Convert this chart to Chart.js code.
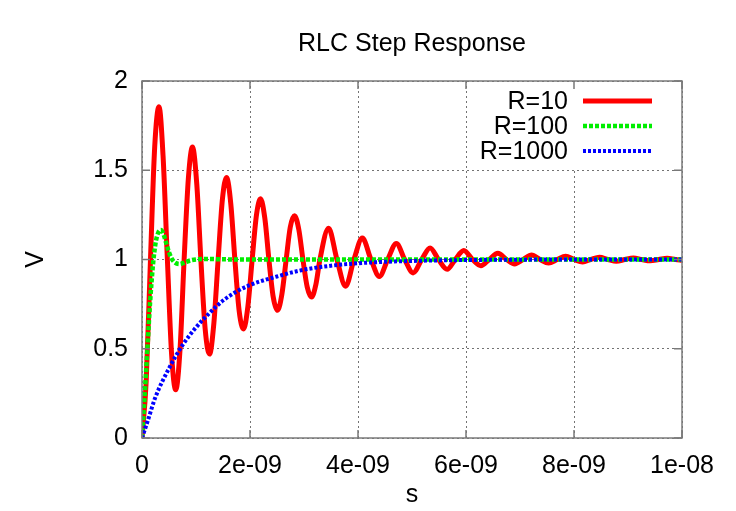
<!DOCTYPE html>
<html>
<head>
<meta charset="utf-8">
<title>RLC Step Response</title>
<script src="https://cdn.jsdelivr.net/npm/chart.js@4.4.1/dist/chart.umd.min.js"></script>
<style>
    body { margin: 0; background: #fff; }
    canvas { display: block; }
</style>
</head>
<body>
<canvas id="rlcChart" width="736" height="511"></canvas>
<script>
// tiempos en nanosegundos (eje en segundos: 2e-09 ... 1e-08)
const xTickLabels = ['0', '2e-09', '4e-09', '6e-09', '8e-09', '1e-08'];
const yTickLabels = ['0', '0.5', '1', '1.5', '2'];
const seriesLabels = ['R=10', 'R=100', 'R=1000'];

// R=10 (subamortiguado)
const r10T = [0, 0.078, 0.157, 0.235, 0.315, 0.39, 0.47, 0.55, 0.625, 0.705, 0.78, 0.86, 0.935, 1.015, 1.09,
    1.17, 1.25, 1.33, 1.41, 1.49, 1.565, 1.645, 1.72, 1.8, 1.88, 1.96, 2.04, 2.12, 2.195, 2.275, 2.35,
    2.43, 2.51, 2.59, 2.67, 2.745, 2.825, 2.905, 2.98, 3.06, 3.14, 3.22, 3.295, 3.455, 3.61, 3.77, 3.925,
    4.08, 4.24, 4.395, 4.55, 4.71, 4.865, 5.02, 5.18, 5.335, 5.49, 5.65, 5.8, 5.96, 6.12, 6.275, 6.43,
    6.59, 6.75, 6.9, 7.06, 7.215, 7.37, 7.53, 7.69, 7.845, 8.0, 8.16, 8.31, 8.47, 8.63, 8.785, 8.94,
    9.1, 9.255, 9.41, 9.57, 9.725, 9.88, 10.0];
const r10V = [0, 0.32, 1.0, 1.63, 1.856, 1.58, 1.0, 0.46, 0.27, 0.5, 1.0, 1.46, 1.63, 1.42, 1.0,
    0.61, 0.47, 0.64, 1.0, 1.34, 1.46, 1.31, 1.0, 0.71, 0.61, 0.735, 1.0, 1.25, 1.34, 1.23, 1.0,
    0.79, 0.715, 0.805, 1.0, 1.18, 1.245, 1.166, 1.0, 0.845, 0.79, 0.86, 1.0, 1.175, 1.0, 0.85, 1.0,
    1.12, 1.0, 0.905, 1.0, 1.09, 1.0, 0.925, 1.0, 1.065, 1.0, 0.945, 1.0, 1.05, 1.0, 0.965, 1.0,
    1.035, 1.0, 0.975, 1.0, 1.025, 1.0, 0.98, 1.0, 1.018, 1.0, 0.986, 1.0, 1.013, 1.0, 0.99, 1.0,
    1.009, 1.0, 0.993, 1.0, 1.007, 1.0, 0.996];

// R=100
const r100T = [0, 0.05, 0.1, 0.15, 0.2, 0.25, 0.3, 0.35, 0.4, 0.45, 0.5, 0.55, 0.6, 0.7, 0.8, 0.9, 1.0, 1.2, 1.5, 2, 3, 4, 5, 6, 7, 8, 9, 10];
const r100V = [0, 0.24, 0.5, 0.76, 0.96, 1.09, 1.15, 1.165, 1.14, 1.09, 1.04, 1.005, 0.985, 0.975, 0.985, 0.995, 1.0, 1.003, 1.001, 1, 1, 1, 1, 1, 1, 1, 1, 1];

// R=1000 (sobreamortiguado)
const r1000T = [0, 0.1, 0.25, 0.5, 0.75, 1.0, 1.25, 1.5, 1.75, 2.0, 2.5, 3.0, 3.5, 4.0, 4.5, 5, 6, 7, 8, 9, 10];
const r1000V = [0, 0.09, 0.23, 0.39, 0.52, 0.62, 0.7, 0.77, 0.82, 0.857, 0.905, 0.943, 0.965, 0.979, 0.987, 0.992, 0.997, 0.999, 1, 1, 1];

const fuente = "'Liberation Sans', Arial, sans-serif";

function puntos(t, v) {
    return t.map((x, i) => ({ x: x, y: v[i] }));
}

// Leyenda con fondo blanco, texto a la izquierda y muestra de linea a la derecha
const leyendaPlugin = {
    id: 'leyenda',
    afterDraw(chart) {
        const ctx = chart.ctx;
        const ca = chart.chartArea;
        ctx.save();
        ctx.fillStyle = '#fff';
        ctx.fillRect(ca.right - 213, ca.top + 1, 212, 86);
        ctx.font = '25px ' + fuente;
        ctx.textAlign = 'right';
        ctx.textBaseline = 'middle';
        chart.data.datasets.forEach((ds, i) => {
            const y = ca.top + 20 + i * 25;
            ctx.fillStyle = '#000';
            ctx.fillText(ds.label, ca.right - 114, y + 1);
            ctx.beginPath();
            ctx.strokeStyle = ds.borderColor;
            ctx.lineWidth = ds.borderWidth;
            ctx.setLineDash(ds.borderDash || []);
            ctx.moveTo(ca.right - 99, y);
            ctx.lineTo(ca.right - 30, y);
            ctx.stroke();
        });
        ctx.restore();
    }
};

// Marco del grafico y marcas de los ejes hacia adentro
const marcoPlugin = {
    id: 'marco',
    afterDraw(chart) {
        const ctx = chart.ctx;
        const ca = chart.chartArea;
        ctx.save();
        ctx.strokeStyle = '#7a7a7a';
        ctx.lineWidth = 1.5;
        ctx.setLineDash([]);
        ctx.strokeRect(ca.left, ca.top, ca.right - ca.left, ca.bottom - ca.top);
        ctx.beginPath();
        chart.scales.x.ticks.forEach(t => {
            const px = chart.scales.x.getPixelForValue(t.value);
            ctx.moveTo(px, ca.bottom); ctx.lineTo(px, ca.bottom - 8);
            ctx.moveTo(px, ca.top); ctx.lineTo(px, ca.top + 8);
        });
        chart.scales.y.ticks.forEach(t => {
            const py = chart.scales.y.getPixelForValue(t.value);
            ctx.moveTo(ca.left, py); ctx.lineTo(ca.left + 8, py);
            ctx.moveTo(ca.right, py); ctx.lineTo(ca.right - 8, py);
        });
        ctx.stroke();
        ctx.restore();
    }
};

const ctx = document.getElementById('rlcChart').getContext('2d');
const rlcChart = new Chart(ctx, {
    type: 'line',
    data: {
        datasets: [{
            label: seriesLabels[0],
            data: puntos(r10T, r10V),
            borderColor: '#ff0000',
            borderWidth: 5,
            order: 3, // debajo de las otras curvas
            cubicInterpolationMode: 'monotone'
        }, {
            label: seriesLabels[1],
            data: puntos(r100T, r100V),
            borderColor: '#00ee00',
            borderWidth: 4.5,
            borderDash: [4, 2],
            order: 2,
            cubicInterpolationMode: 'monotone'
        }, {
            label: seriesLabels[2],
            data: puntos(r1000T, r1000V),
            borderColor: '#0000ff',
            borderWidth: 4,
            borderDash: [3, 2],
            order: 1,
            cubicInterpolationMode: 'monotone'
        }]
    },
    options: {
        responsive: false,
        animation: false,
        elements: { point: { radius: 0 } },
        layout: { padding: { left: 0, right: 54, top: 0, bottom: 0 } },
        plugins: {
            legend: { display: false },
            tooltip: { enabled: false },
            title: {
                display: true,
                fullSize: false,
                text: 'RLC Step Response',
                color: '#000',
                font: { family: fuente, size: 25, weight: 'normal' },
                padding: { top: 29, bottom: 22 }
            }
        },
        scales: {
            x: {
                type: 'linear',
                min: 0,
                max: 10,
                afterFit: (scale) => { scale.height = 73; },
                ticks: {
                    stepSize: 2,
                    padding: 13,
                    color: '#000',
                    font: { family: fuente, size: 25 },
                    maxRotation: 0,
                    callback: (value, index) => xTickLabels[index]
                },
                grid: { color: 'rgba(0,0,0,0.55)', lineWidth: 1, drawTicks: false },
                border: { display: false, dash: [2, 3] },
                title: {
                    display: true,
                    text: 's',
                    color: '#000',
                    font: { family: fuente, size: 25 },
                    padding: { top: 0, bottom: 1 }
                }
            },
            y: {
                min: 0,
                max: 2,
                afterFit: (scale) => { scale.width = 142; },
                ticks: {
                    stepSize: 0.5,
                    padding: 14,
                    color: '#000',
                    font: { family: fuente, size: 25 },
                    callback: (value, index) => yTickLabels[index]
                },
                grid: { color: 'rgba(0,0,0,0.55)', lineWidth: 1, drawTicks: false },
                border: { display: false, dash: [2, 3] },
                title: {
                    display: true,
                    text: 'V',
                    color: '#000',
                    font: { family: fuente, size: 25 },
                    padding: { top: 21, bottom: 0 }
                }
            }
        }
    },
    plugins: [leyendaPlugin, marcoPlugin]
});
</script>
</body>
</html>
